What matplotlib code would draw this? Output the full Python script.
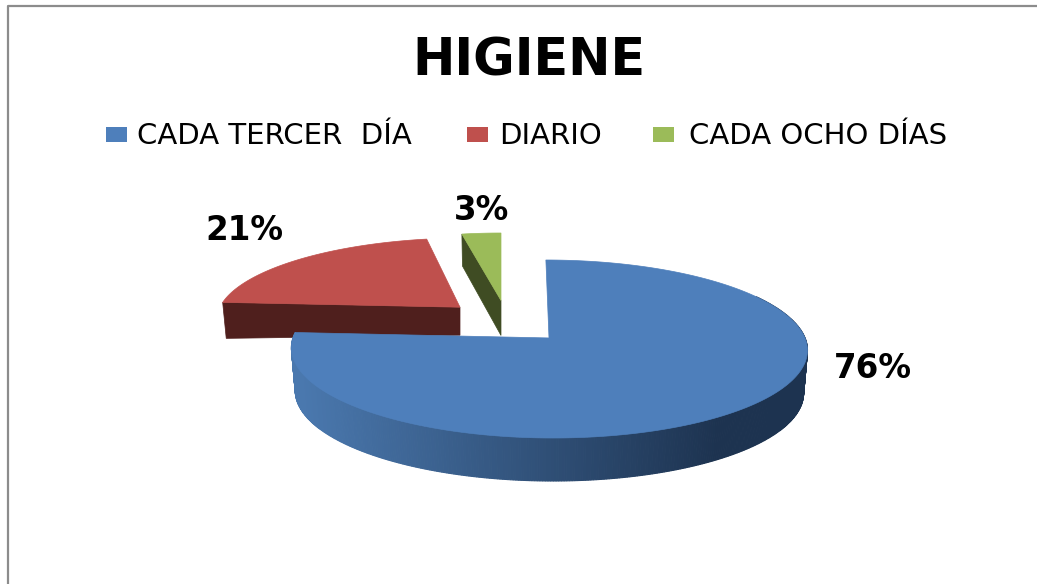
#!/usr/bin/env python3
"""Exploded 3D style pie chart: HIGIENE."""

import matplotlib
matplotlib.use('Agg')
import matplotlib.pyplot as plt
from matplotlib.colors import LinearSegmentedColormap
from matplotlib.patches import Polygon, Rectangle
import numpy as np

# data
categories = ['CADA TERCER  DÍA', 'DIARIO', 'CADA OCHO DÍAS']
values = [76, 21, 3]

top_colors = ['#4e7fbb', '#bf504d', '#9bbb59']
side_colors = ['#2f5078', '#4f1f1d', '#3f4c23']

# one ellipse per slice: centre x, centre y, rx, ry, depth at apex, depth at rim, skew
ellipses = [
    (549, 349, 258, 89, 43, 43, -0.04),
    (460, 317, 242, 79, 28, 36, 0.10),
    (501, 310, 236, 77, 35, 32, 0.0),
]
TILT = 0.124  # how far the pie centre sits above the ellipse centre
legend_boxes = [106, 467, 653]
legend_texts = [137, 499, 689]
label_pos = [(873, 369), (244, 231), (481, 211)]


def project(angle, ell):
    """Pie angle (clockwise from top, radians) to pixel position on the ellipse."""
    cx, cy, rx, ry = ell[:4]
    skew = ell[6]
    u, v = np.sin(angle), np.cos(angle)
    den = 1 + TILT * v
    y = cy - ry * (v + TILT) / den
    x = cx + rx * u * np.sqrt(1 - TILT**2) / den
    return x + skew * (cy - ry * TILT - y), y


def draw_slice(ax, start, end, ell, top, side, z):
    cx, cy, rx, ry, d_apex, d_rim = ell[:6]
    xs, ys = project(np.linspace(start, end, 200), ell)
    apex = (cx, cy - ry * TILT)
    # radial edge that faces the viewer, the big slice hides its own
    if end - start < np.pi:
        ex, ey = project(start, ell)
        ax.add_patch(Polygon([(ex, ey), apex, (apex[0], apex[1] + d_apex),
                              (ex + (apex[0] - ex) * 0.015, ey + d_rim)],
                             closed=True, fc=side, ec=side, lw=0.5, zorder=z))
    ax.add_patch(Polygon(np.vstack([[apex], np.column_stack([xs, ys])]),
                         closed=True, fc=top, ec=top, lw=0.5, zorder=z + 0.5))


def draw_rim(ax, start, end, ell, z):
    """Outer wall of the big slice, shaded left to right."""
    cx, d_rim = ell[0], ell[5]
    shade = LinearSegmentedColormap.from_list('wall', ['#4a78ae', '#1d3350'])
    angles = np.linspace(start, end, 400)
    xs, ys = project(angles, ell)
    low_x = cx + (xs - cx) * 0.985
    low_y = ys + d_rim
    for i in range(len(angles) - 1):
        t = np.clip((xs[i] - 300) / 420, 0, 1)
        quad = [(xs[i], ys[i]), (xs[i + 1], ys[i + 1]),
                (low_x[i + 1], low_y[i + 1]), (low_x[i], low_y[i])]
        ax.add_patch(Polygon(quad, closed=True, fc=shade(t), ec=shade(t), lw=0.8, zorder=z))


fig = plt.figure(figsize=(10.37, 5.84), dpi=100)
ax = fig.add_axes([0, 0, 1, 1])
ax.set_xlim(0, 1037)
ax.set_ylim(584, 0)
ax.axis('off')

# chart frame, only left and top are inside the crop
ax.plot([8, 8, 1037], [584, 6, 6], color='#8c8c8c', lw=1.6)

ax.text(529, 61, 'HIGIENE', ha='center', va='center', fontsize=36.5,
        fontweight='bold', color='black', family='DejaVu Sans')

for name, color, bx, tx in zip(categories, top_colors, legend_boxes, legend_texts):
    ax.add_patch(Rectangle((bx, 127), 21, 15, fc=color, ec='none'))
    ax.text(tx, 135.5, name, ha='left', va='center', fontsize=21,
            color='black', family='DejaVu Sans')

# slices are stacked back to front: green, red, blue
edges = np.radians(np.cumsum([0] + values) / sum(values) * 360)
draw_slice(ax, edges[2], edges[3], ellipses[2], top_colors[2], side_colors[2], 2)
draw_slice(ax, edges[1], edges[2], ellipses[1], top_colors[1], side_colors[1], 3)
# back part of the wall is hidden, start it past the notch
draw_rim(ax, np.radians(60), edges[1], ellipses[0], 4)
draw_slice(ax, edges[0], edges[1], ellipses[0], top_colors[0], side_colors[0], 4)

for value, (lx, ly) in zip(values, label_pos):
    ax.text(lx, ly, f'{value}%', ha='center', va='center', fontsize=23.5,
            fontweight='bold', color='black', family='DejaVu Sans', zorder=6)

fig.savefig('out.png', dpi=100)
plt.close(fig)
